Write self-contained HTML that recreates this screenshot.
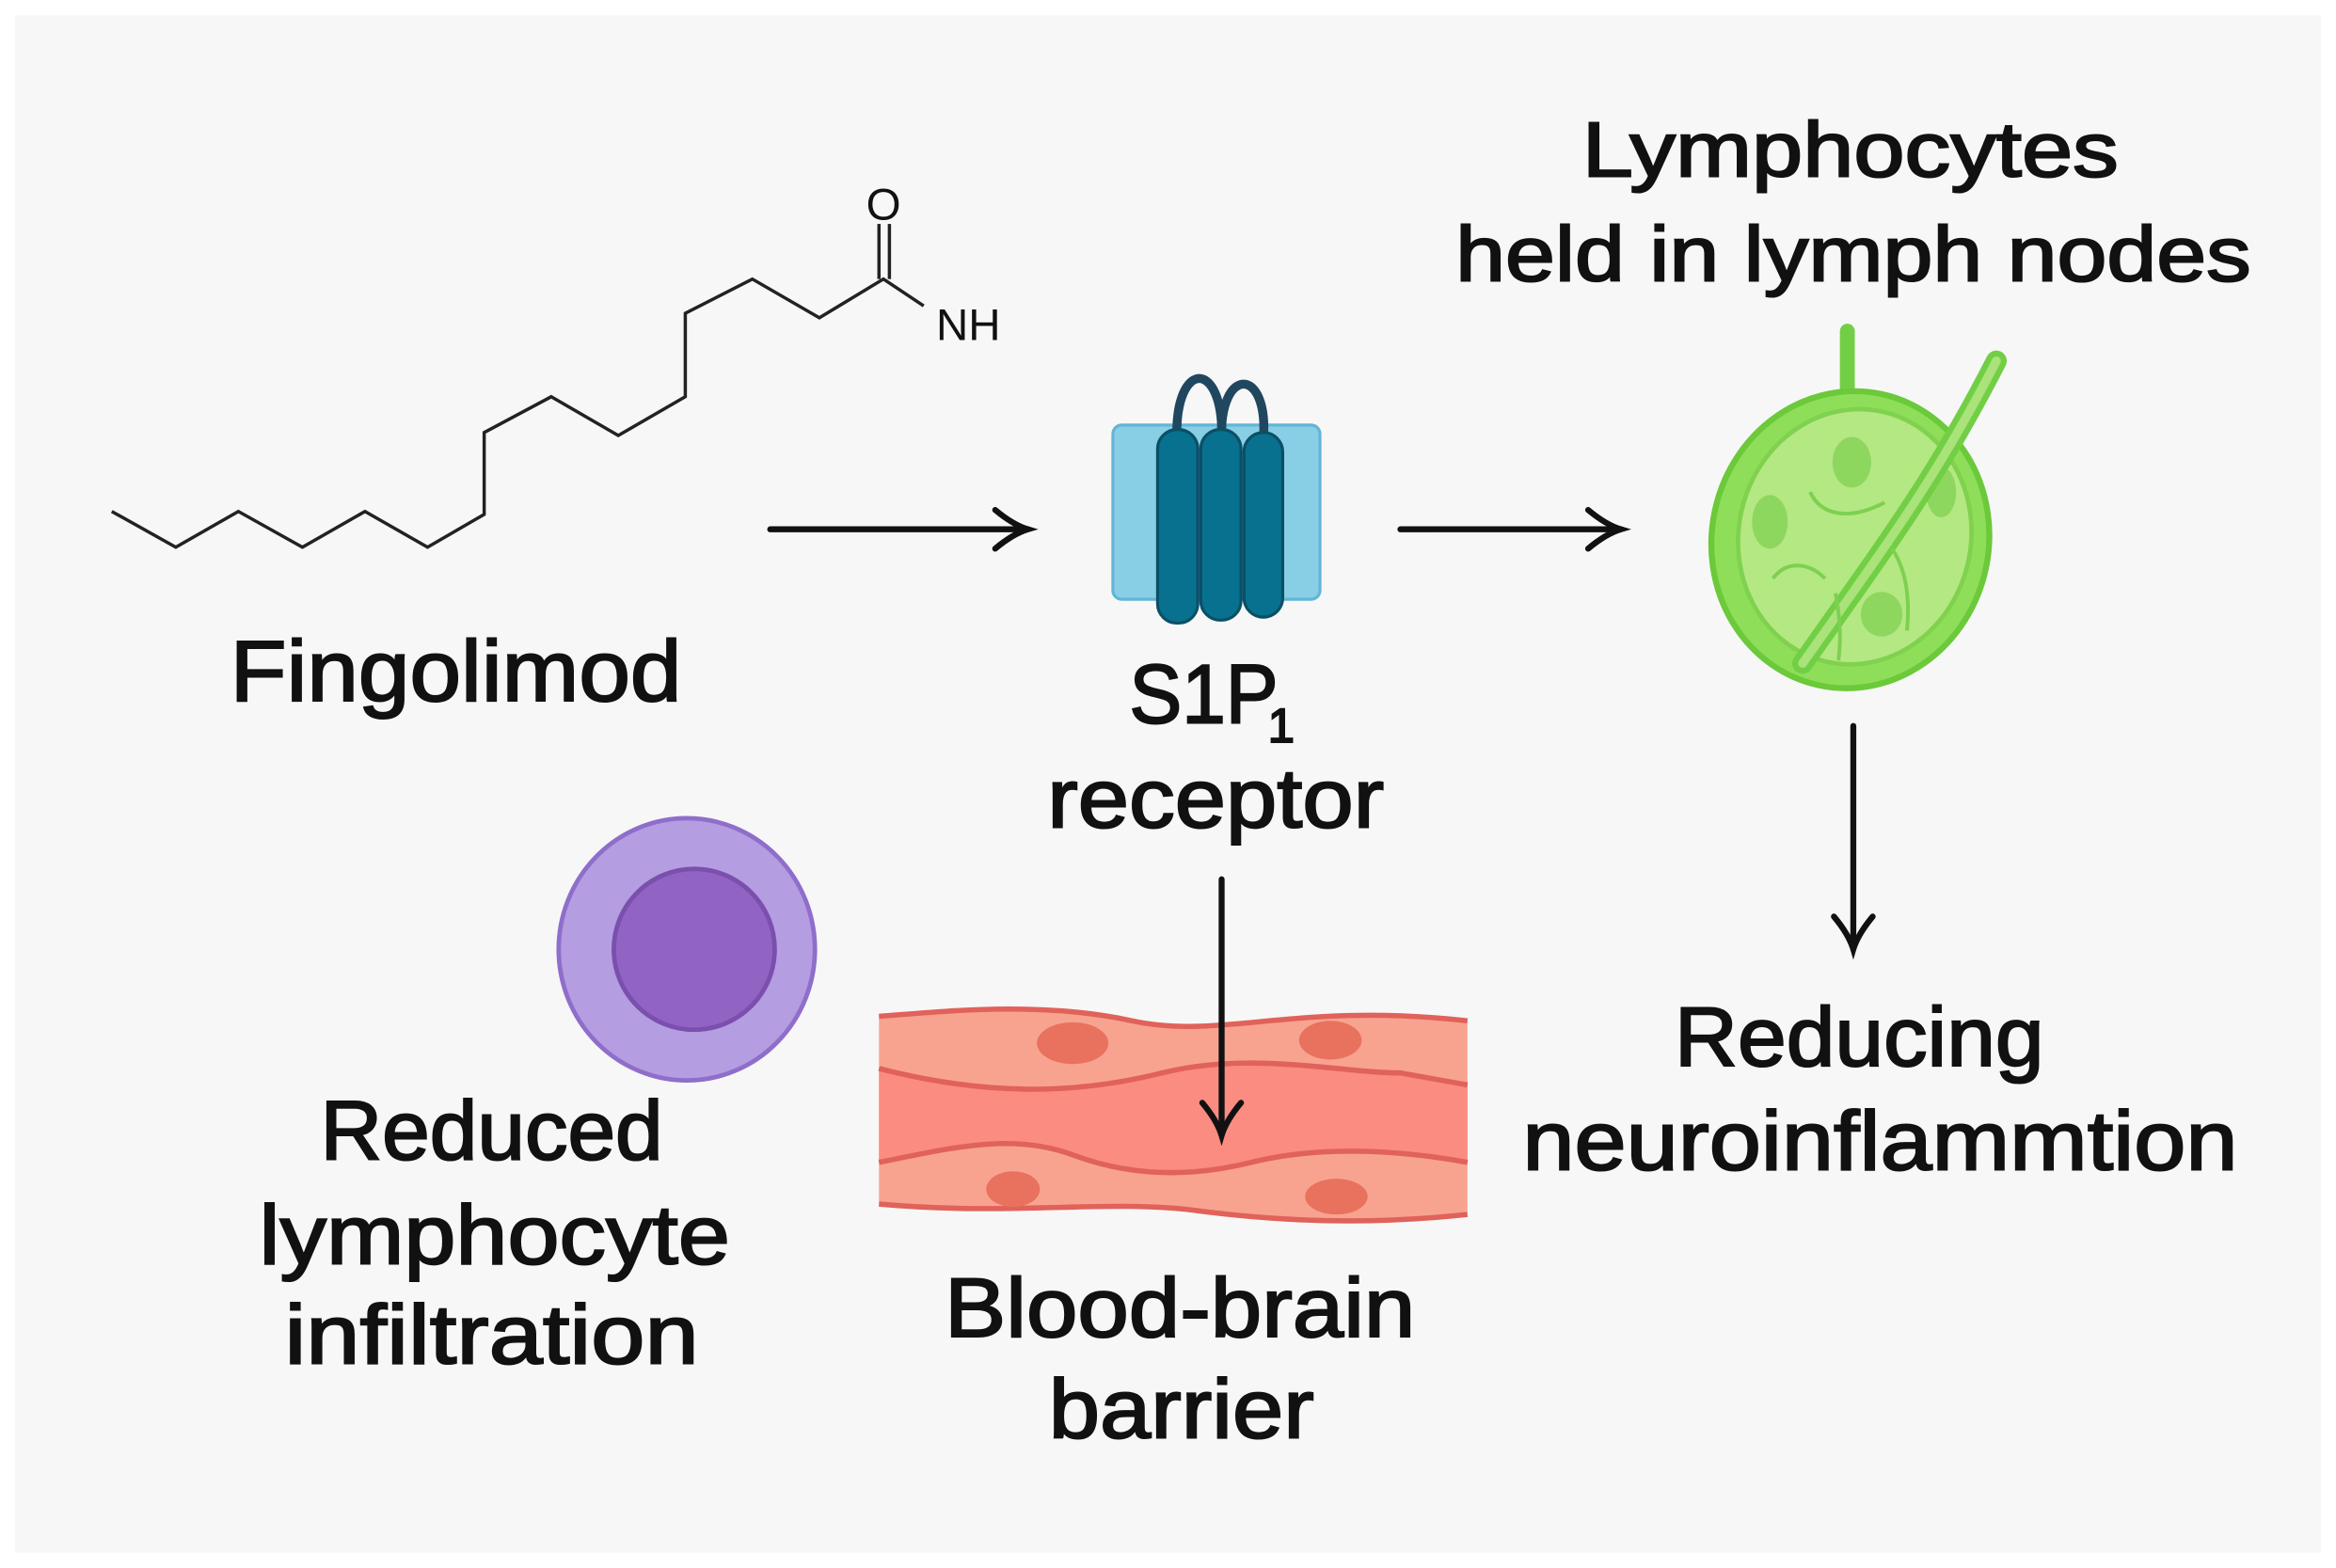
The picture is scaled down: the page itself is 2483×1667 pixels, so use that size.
<!DOCTYPE html>
<html><head><meta charset="utf-8"><style>
html,body{margin:0;padding:0;background:#fff;}
svg{display:block;}
text{font-family:"Liberation Sans","DejaVu Sans",sans-serif;fill:#111;}
.t{stroke:#111;stroke-width:1.3;}
</style></head><body>
<svg width="2483" height="1667" viewBox="0 0 1568 1052" xmlns="http://www.w3.org/2000/svg">
<rect x="0" y="0" width="1568" height="1052" fill="#ffffff"/>
<rect x="10" y="10" width="1548" height="1032" fill="#f7f7f7"/>
<!-- molecule -->
<polyline points="75,343 118,367 160,343 203,367 245,343 287,367 325,345 325,290 370,266 415,292 460,266 460,210 505,187 550,213 593,187 620,205" fill="none" stroke="#222" stroke-width="2.2"/>
<line x1="590" y1="187" x2="590" y2="150" stroke="#222" stroke-width="2.2"/>
<line x1="597" y1="187" x2="597" y2="150" stroke="#222" stroke-width="2.2"/>
<text x="593" y="147" font-size="30" text-anchor="middle">O</text>
<text x="650" y="228" font-size="30" text-anchor="middle">NH</text>
<text class="t" x="306" y="470" font-size="58" text-anchor="middle" textLength="303" lengthAdjust="spacingAndGlyphs">Fingolimod</text>
<!-- arrows -->
<g stroke="#111" stroke-width="4" fill="none" stroke-linecap="round">
<line x1="517" y1="355" x2="688" y2="355"/>
<path d="M668,342 Q680,352 690,355 Q680,358 668,368"/>
<line x1="940" y1="355" x2="1086" y2="355"/>
<path d="M1066,342 Q1078,352 1088,355 Q1078,358 1066,368"/>
<line x1="1244" y1="487" x2="1244" y2="635"/>
<path d="M1231,615 Q1241,627 1244,637 Q1247,627 1257,615"/>
</g>
<!-- receptor -->
<rect x="747" y="285" width="139" height="117" rx="6" fill="#88cfe6" stroke="#62b5d6" stroke-width="2"/>
<path d="M790,295 C788,240 822,240 820,295" fill="none" stroke="#21475f" stroke-width="6"/>
<path d="M820,295 C818,245 852,245 848,295" fill="none" stroke="#21475f" stroke-width="6"/>
<rect x="777" y="288" width="27" height="130" rx="13" fill="#08718f" stroke="#0b4f66" stroke-width="2"/>
<rect x="806" y="288" width="27" height="128" rx="13" fill="#08718f" stroke="#0b4f66" stroke-width="2"/>
<rect x="835" y="290" width="26" height="124" rx="13" fill="#08718f" stroke="#0b4f66" stroke-width="2"/>
<text class="t" x="808" y="485" font-size="56" text-anchor="middle" textLength="100" lengthAdjust="spacingAndGlyphs">S1P</text>
<text class="t" x="860" y="498" font-size="32" text-anchor="middle">1</text>
<text class="t" x="816" y="555" font-size="56" text-anchor="middle" textLength="226" lengthAdjust="spacingAndGlyphs">receptor</text>
<!-- lymph node -->
<line x1="1240" y1="222" x2="1240" y2="285" stroke="#72cf45" stroke-width="10" stroke-linecap="round"/>
<ellipse cx="1242" cy="362" rx="93" ry="100" transform="rotate(12 1242 362)" fill="#8ede5a" stroke="#6bc93a" stroke-width="4"/>
<ellipse cx="1245" cy="360" rx="78" ry="86" transform="rotate(12 1245 360)" fill="#b4e883" stroke="#80d24e" stroke-width="3"/>
<ellipse cx="1243" cy="310" rx="13" ry="17" fill="#8ed75e"/>
<ellipse cx="1188" cy="350" rx="12" ry="18" fill="#8ed75e"/>
<ellipse cx="1303" cy="330" rx="10" ry="17" fill="#8ed75e"/>
<ellipse cx="1263" cy="412" rx="14" ry="15" fill="#8ed75e"/>
<path d="M1340,242 C1300,320 1270,360 1210,445" fill="none" stroke="#72cf45" stroke-width="14" stroke-linecap="round"/>
<path d="M1340,242 C1300,320 1270,360 1210,445" fill="none" stroke="#a9e37a" stroke-width="6" stroke-linecap="round"/>
<g fill="none" stroke="#7ed050" stroke-width="2.5">
<path d="M1215,330 C1222,345 1240,350 1265,337"/>
<path d="M1190,388 C1200,375 1215,378 1225,388"/>
<path d="M1270,368 C1280,383 1282,403 1280,423"/>
<path d="M1232,398 C1235,413 1236,428 1234,443"/>
</g>
<text class="t" x="1242" y="118" font-size="52" text-anchor="middle" textLength="360" lengthAdjust="spacingAndGlyphs">Lymphocytes</text>
<text class="t" x="1244" y="188" font-size="52" text-anchor="middle" textLength="534" lengthAdjust="spacingAndGlyphs">held in lymph nodes</text>
<text class="t" x="1248" y="715" font-size="56" text-anchor="middle" textLength="248" lengthAdjust="spacingAndGlyphs">Reducing</text>
<text class="t" x="1262" y="785" font-size="56" text-anchor="middle" textLength="480" lengthAdjust="spacingAndGlyphs">neuroinflammtion</text>
<!-- cell -->
<ellipse cx="461" cy="637" rx="86" ry="88" fill="#b49de0" stroke="#8f6ecb" stroke-width="3"/>
<circle cx="466" cy="637" r="54" fill="#9163c2" stroke="#7a4fae" stroke-width="3"/>
<text class="t" x="330" y="778" font-size="56" text-anchor="middle" textLength="230" lengthAdjust="spacingAndGlyphs">Reduced</text>
<text class="t" x="332" y="848" font-size="56" text-anchor="middle" textLength="316" lengthAdjust="spacingAndGlyphs">lymphocyte</text>
<text class="t" x="330" y="915" font-size="56" text-anchor="middle" textLength="278" lengthAdjust="spacingAndGlyphs">infiltration</text>
<!-- vessel -->
<path d="M590,682 C640,678 700,672 760,685 C820,698 870,672 985,685 L985,815 C920,822 860,820 800,812 C740,805 680,816 590,808 Z" fill="#f8a390"/>
<path d="M590,717 C660,735 720,735 780,720 C840,705 900,720 940,720 L985,728 L985,780 C930,770 880,770 840,780 C800,790 760,790 720,775 C680,760 640,770 590,780 Z" fill="#fa8c82"/>
<g fill="none" stroke="#e0625a" stroke-width="3.5">
<path d="M590,682 C640,678 700,672 760,685 C820,698 870,672 985,685"/>
<path d="M590,717 C660,735 720,735 780,720 C840,705 900,720 940,720 L985,728"/>
<path d="M590,780 C640,770 680,760 720,775 C760,790 800,790 840,780 C880,770 930,770 985,780"/>
<path d="M590,808 C680,816 740,805 800,812 C860,820 920,822 985,815"/>
</g>
<g fill="#e8725e">
<ellipse cx="720" cy="700" rx="24" ry="14"/>
<ellipse cx="893" cy="698" rx="21" ry="13"/>
<ellipse cx="680" cy="798" rx="18" ry="12"/>
<ellipse cx="897" cy="803" rx="21" ry="12"/>
</g>
<g stroke="#111" stroke-width="4" fill="none" stroke-linecap="round">
<line x1="820" y1="590" x2="820" y2="760"/>
<path d="M807,740 Q817,752 820,762 Q823,752 833,740"/>
</g>
<text class="t" x="792" y="897" font-size="56" text-anchor="middle" textLength="316" lengthAdjust="spacingAndGlyphs">Blood-brain</text>
<text class="t" x="793" y="965" font-size="56" text-anchor="middle" textLength="178" lengthAdjust="spacingAndGlyphs">barrier</text>
</svg>
</body></html>
